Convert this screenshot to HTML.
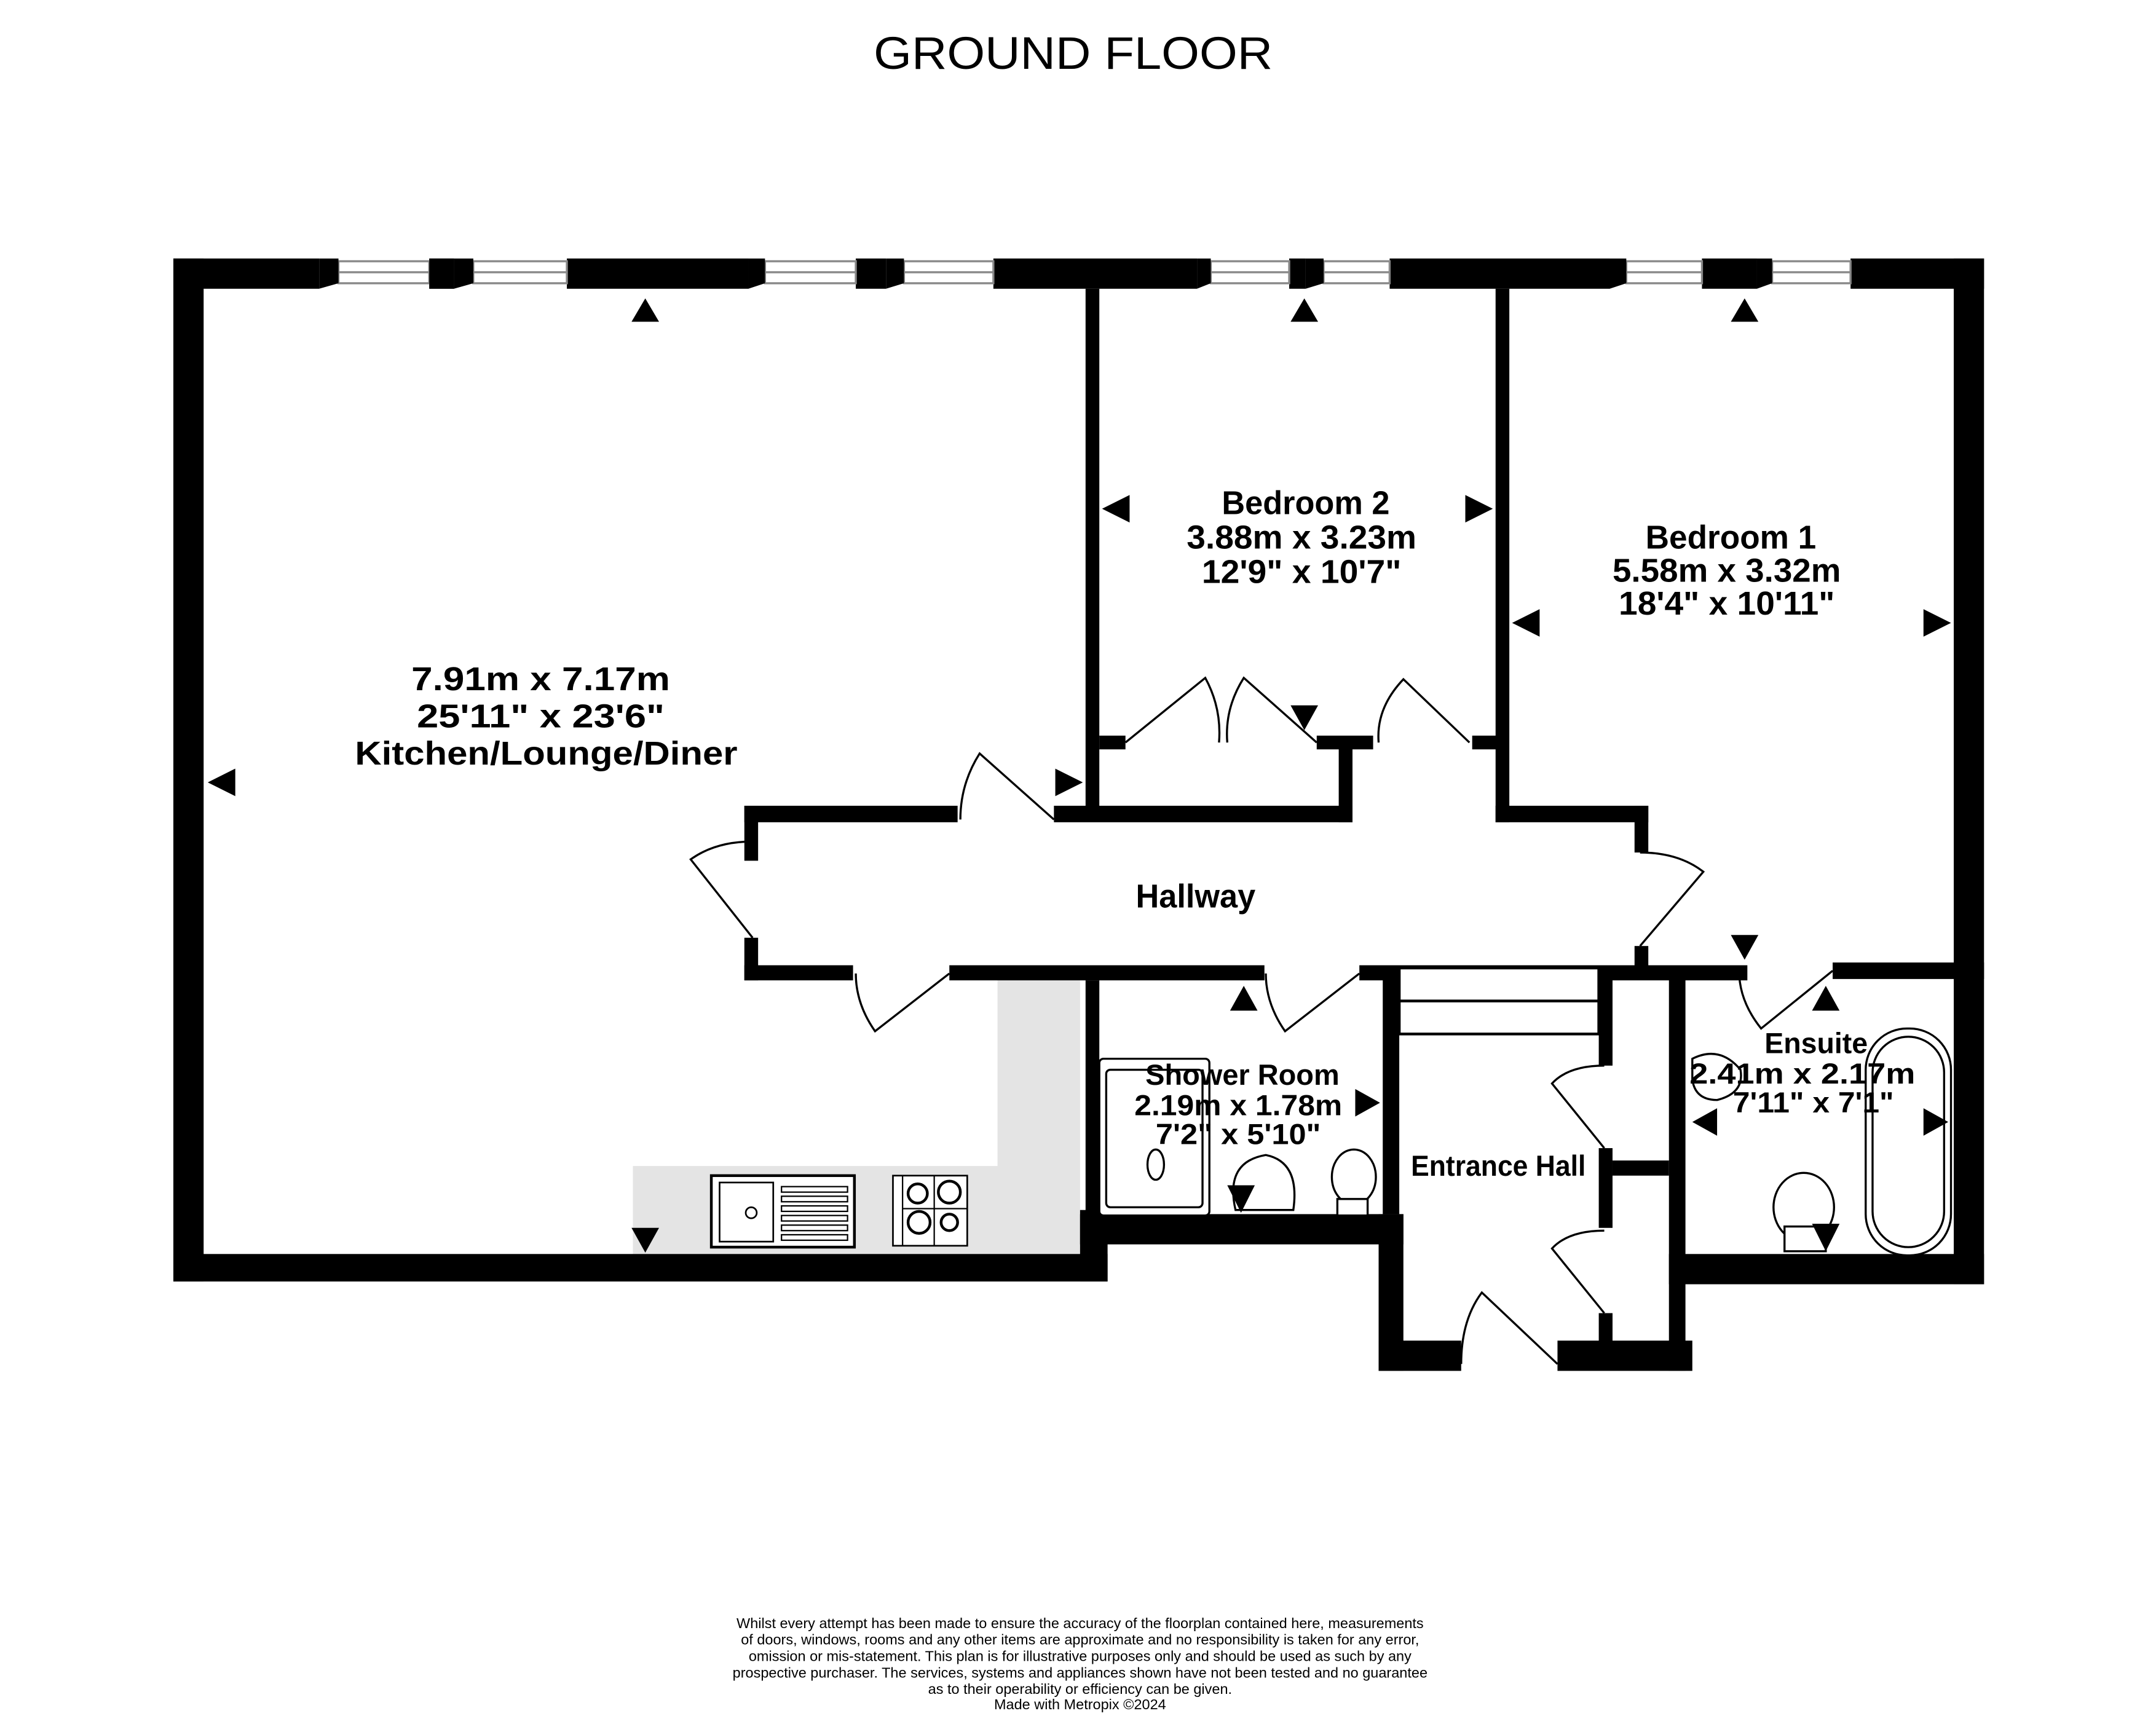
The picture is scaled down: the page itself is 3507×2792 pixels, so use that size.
<!DOCTYPE html>
<html><head><meta charset="utf-8"><style>
html,body{margin:0;padding:0;background:#fff;width:3507px;height:2792px;overflow:hidden}
svg{display:block}
text{font-family:"Liberation Sans",sans-serif}
</style></head><body>
<svg width="3507" height="2792" viewBox="0 0 1567 1248" preserveAspectRatio="none" xmlns="http://www.w3.org/2000/svg">
<text x="780" y="50" text-anchor="middle" font-size="33" textLength="290" lengthAdjust="spacingAndGlyphs">GROUND FLOOR</text>
<!-- kitchen grey -->
<path d="M725 713 H785 V914 H460 V848 H725 Z" fill="#e4e4e4"/>
<g fill="#000">
<rect x="126" y="188" width="106" height="22"/>
<rect x="312" y="188" width="18" height="22"/>
<rect x="412" y="188" width="132" height="22"/>
<rect x="622" y="188" width="22" height="22"/>
<rect x="722" y="188" width="148" height="22"/>
<rect x="937" y="188" width="12" height="22"/>
<rect x="1010" y="188" width="160" height="22"/>
<rect x="1237" y="188" width="40" height="22"/>
<rect x="1345" y="188" width="97" height="22"/>
<rect x="126" y="188" width="22" height="744"/>
<rect x="1420" y="188" width="22" height="746"/>
<rect x="126" y="912" width="679" height="20"/>
<rect x="785" y="880" width="20" height="52"/>
<rect x="789" y="210" width="10" height="380"/>
<rect x="1087" y="210" width="10" height="388"/>
<rect x="799" y="535" width="19" height="10"/>
<rect x="957" y="535" width="41" height="10"/>
<rect x="1070" y="535" width="20" height="10"/>
<rect x="973" y="540" width="10" height="58"/>
<rect x="766" y="586" width="217" height="12"/>
<rect x="541" y="586" width="155" height="12"/>
<rect x="541" y="586" width="10" height="40"/>
<rect x="1087" y="586" width="111" height="12"/>
<rect x="1188" y="586" width="10" height="34"/>
<rect x="541" y="682" width="10" height="31"/>
<rect x="541" y="702" width="79" height="11"/>
<rect x="690" y="702" width="229" height="11"/>
<rect x="988" y="702" width="282" height="11"/>
<rect x="1188" y="688" width="10" height="20"/>
<rect x="1332" y="700" width="110" height="12"/>
<rect x="789" y="713" width="10" height="170"/>
<rect x="785" y="883" width="235" height="22"/>
<rect x="1005" y="703" width="12" height="180"/>
<rect x="1002" y="883" width="18" height="114"/>
<rect x="1002" y="975" width="60" height="22"/>
<rect x="1132" y="975" width="98" height="22"/>
<rect x="1162" y="703" width="10" height="72"/>
<rect x="1162" y="835" width="10" height="58"/>
<rect x="1162" y="955" width="10" height="22"/>
<rect x="1213" y="703" width="12" height="294"/>
<rect x="1172" y="844" width="41" height="11"/>
<rect x="1213" y="912" width="229" height="22"/>
</g>
<g fill="#fff" stroke="#888" stroke-width="1.5">
<rect x="246" y="190" width="66" height="16"/><line x1="246" y1="198" x2="312" y2="198"/>
<rect x="344" y="190" width="68" height="16"/><line x1="344" y1="198" x2="412" y2="198"/>
<rect x="556" y="190" width="66" height="16"/><line x1="556" y1="198" x2="622" y2="198"/>
<rect x="657" y="190" width="65" height="16"/><line x1="657" y1="198" x2="722" y2="198"/>
<rect x="880" y="190" width="57" height="16"/><line x1="880" y1="198" x2="937" y2="198"/>
<rect x="962" y="190" width="48" height="16"/><line x1="962" y1="198" x2="1010" y2="198"/>
<rect x="1182" y="190" width="55" height="16"/><line x1="1182" y1="198" x2="1237" y2="198"/>
<rect x="1288" y="190" width="57" height="16"/><line x1="1288" y1="198" x2="1345" y2="198"/>
</g>
<g fill="#000">
<path d="M232 188H246V206L232 210Z"/><path d="M330 188H344V206L330 210Z"/><path d="M312 188H330V210H312Z"/>
<path d="M544 188H556V206L544 210Z"/><path d="M644 188H657V206L644 210Z"/>
<path d="M870 188H880V206L870 210Z"/><path d="M949 188H962V206L949 210Z"/>
<path d="M1170 188H1182V206L1170 210Z"/><path d="M1277 188H1288V206L1277 210Z"/>
</g>
<g fill="none" stroke="#000" stroke-width="1.5">
<path d="M766 596 L712 548 Q698 570 698 596"/>
<path d="M818 540 L876 493 Q888 515 886 540"/>
<path d="M957 540 L904 493 Q890 515 892 540"/>
<path d="M1068 540 L1020 494 Q1000 515 1002 540"/>
<path d="M547 682 L502 625 Q520 612 547 612"/>
<path d="M1192 688 L1238 634 Q1220 620 1192 620"/>
<path d="M690 708 L636 750 Q622 730 622 708"/>
<path d="M988 708 L934 750 Q920 730 920 708"/>
<path d="M1332 706 L1280 748 Q1264 728 1264 706"/>
<path d="M1166 835 L1128 788 Q1140 775 1166 775"/>
<path d="M1166 955 L1128 908 Q1140 895 1166 895"/>
<path d="M1132 992 L1077 940 Q1062 960 1062 992"/>
</g>
<g fill="#fff" stroke="#000" stroke-width="2">
<rect x="1017" y="704" width="145" height="48"/><line x1="1017" y1="728" x2="1162" y2="728"/>
</g>
<g fill="#fff" stroke="#000" stroke-width="2">
<rect x="517" y="855" width="104" height="52"/>
<rect x="523" y="860" width="39" height="43" stroke-width="1.2"/>
<circle cx="546" cy="882" r="4" stroke-width="1.2"/>
<g stroke-width="1"><rect x="568" y="863" width="48" height="4"/><rect x="568" y="870" width="48" height="4"/><rect x="568" y="877" width="48" height="4"/><rect x="568" y="884" width="48" height="4"/><rect x="568" y="891" width="48" height="4"/><rect x="568" y="898" width="48" height="4"/></g>
<rect x="649" y="855" width="54" height="51" stroke-width="1.2"/>
<g stroke-width="1"><line x1="656" y1="855" x2="656" y2="906"/><line x1="679" y1="855" x2="679" y2="906"/><line x1="656" y1="879" x2="703" y2="879"/></g>
<circle cx="667" cy="868" r="7"/><circle cx="690" cy="867" r="8"/><circle cx="668" cy="889" r="8"/><circle cx="690" cy="889" r="6"/>
</g>
<g fill="#fff" stroke="#000" stroke-width="1.5">
<rect x="799" y="770" width="80" height="114" rx="3"/>
<rect x="804" y="778" width="70" height="100" rx="3"/>
<ellipse cx="840" cy="847" rx="6" ry="11"/>
<path d="M898 880 Q890 845 920 840 Q945 845 940 880 Z"/>
<ellipse cx="984" cy="856" rx="16" ry="20"/>
<rect x="972" y="872" width="22" height="12"/>
<path d="M1230 770 Q1250 760 1265 778 Q1268 795 1248 800 Q1232 800 1230 785Z"/>
<ellipse cx="1311" cy="878" rx="22" ry="25"/>
<rect x="1297" y="892" width="30" height="18"/>
<rect x="1356" y="748" width="62" height="165" rx="30"/>
<rect x="1361" y="754" width="52" height="153" rx="26"/>
</g>
<g fill="#000">
<path d="M459 234 L469 217 L479 234Z"/>
<path d="M938 234 L948 217 L958 234Z"/>
<path d="M1258 234 L1268 217 L1278 234Z"/>
<path d="M171 559 L151 569 L171 579Z"/>
<path d="M767 559 L787 569 L767 579Z"/>
<path d="M821 360 L801 370 L821 380Z"/>
<path d="M1065 360 L1085 370 L1065 380Z"/>
<path d="M1119 443 L1099 453 L1119 463Z"/>
<path d="M1398 443 L1418 453 L1398 463Z"/>
<path d="M938 513 L948 531 L958 513Z"/>
<path d="M1258 680 L1268 698 L1278 680Z"/>
<path d="M459 893 L469 911 L479 893Z"/>
<path d="M894 735 L904 717 L914 735Z"/>
<path d="M1317 735 L1327 717 L1337 735Z"/>
<path d="M985 792 L1003 802 L985 812Z"/>
<path d="M1248 806 L1230 816 L1248 826Z"/>
<path d="M1398 806 L1416 816 L1398 826Z"/>
<path d="M892 862 L902 882 L912 862Z"/>
<path d="M1317 890 L1327 910 L1337 890Z"/>
</g>
<g font-weight="bold" font-size="24" text-anchor="middle" lengthAdjust="spacingAndGlyphs" xml:space="preserve">
<text x="393" y="502" textLength="188" lengthAdjust="spacingAndGlyphs">7.91m  x 7.17m</text>
<text x="393" y="529" textLength="180" lengthAdjust="spacingAndGlyphs">25'11"  x 23'6"</text>
<text x="397" y="556" textLength="278" lengthAdjust="spacingAndGlyphs">Kitchen/Lounge/Diner</text>
<text x="949" y="374" textLength="122" lengthAdjust="spacingAndGlyphs">Bedroom 2</text>
<text x="946" y="399" textLength="167" lengthAdjust="spacingAndGlyphs">3.88m  x 3.23m</text>
<text x="946" y="424" textLength="145" lengthAdjust="spacingAndGlyphs">12'9"  x 10'7"</text>
<text x="1258" y="399" textLength="124" lengthAdjust="spacingAndGlyphs">Bedroom 1</text>
<text x="1255" y="423" textLength="166" lengthAdjust="spacingAndGlyphs">5.58m  x 3.32m</text>
<text x="1255" y="447" textLength="157" lengthAdjust="spacingAndGlyphs">18'4"  x 10'11"</text>
<text x="869" y="660" textLength="87" lengthAdjust="spacingAndGlyphs">Hallway</text>
<text x="903" y="789" font-size="21" textLength="141" lengthAdjust="spacingAndGlyphs">Shower Room</text>
<text x="900" y="811" font-size="21" textLength="151" lengthAdjust="spacingAndGlyphs">2.19m  x 1.78m</text>
<text x="900" y="832" font-size="21" textLength="120" lengthAdjust="spacingAndGlyphs">7'2"  x 5'10"</text>
<text x="1089" y="855" font-size="21" textLength="127" lengthAdjust="spacingAndGlyphs">Entrance Hall</text>
<text x="1320" y="766" font-size="21" textLength="75" lengthAdjust="spacingAndGlyphs">Ensuite</text>
<text x="1310" y="788" font-size="21" textLength="164" lengthAdjust="spacingAndGlyphs">2.41m  x 2.17m</text>
<text x="1318" y="809" font-size="21" textLength="117" lengthAdjust="spacingAndGlyphs">7'11"  x 7'1"</text>
</g>
<g font-size="10.5" text-anchor="middle">
<text x="785" y="1184">Whilst every attempt has been made to ensure the accuracy of the floorplan contained here, measurements</text>
<text x="785" y="1196">of doors, windows, rooms and any other items are approximate and no responsibility is taken for any error,</text>
<text x="785" y="1208">omission or mis-statement. This plan is for illustrative purposes only and should be used as such by any</text>
<text x="785" y="1220">prospective purchaser. The services, systems and appliances shown have not been tested and no guarantee</text>
<text x="785" y="1232">as to their operability or efficiency can be given.</text>
<text x="785" y="1243">Made with Metropix ©2024</text>
</g>
</svg>
</body></html>
